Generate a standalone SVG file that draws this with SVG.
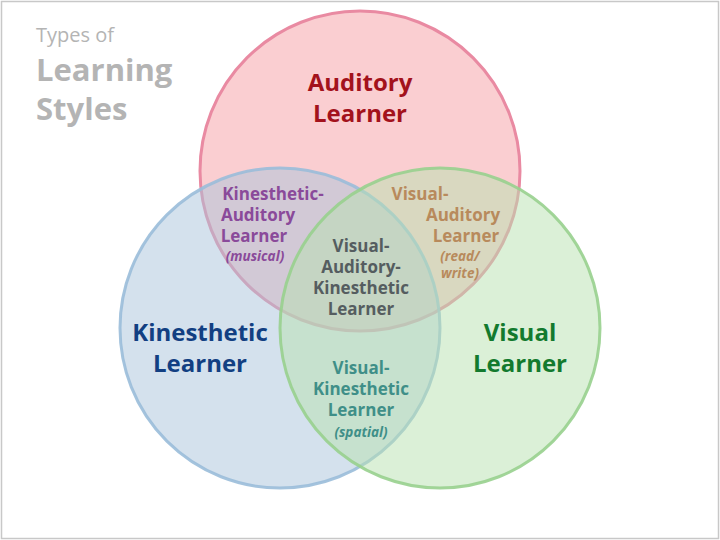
<svg xmlns="http://www.w3.org/2000/svg" width="720" height="540" viewBox="0 0 720 540">
<style>
text{font-family:"Open Sans","Noto Sans",sans-serif;font-weight:bold;text-anchor:middle}
.big{font-size:24px}
.mid{font-size:17px}
.it{font-size:13.5px;font-style:italic}
</style>
<rect x="1.5" y="1.5" width="717" height="537" fill="#fff" stroke="#c8c8c8" stroke-width="1.5"/>
<g id="title" fill="#b4b4b4">
<text x="36" y="42" style="font-size:20px;font-weight:normal;text-anchor:start">Types of</text>
<text x="36" y="81" style="font-size:31px;text-anchor:start">Learning</text>
<text x="36" y="120" style="font-size:31px;text-anchor:start">Styles</text>
</g>
<g id="circles" stroke-width="3">
<circle id="auditory" cx="360" cy="171" r="160" fill="#f7b4b8" fill-opacity="0.65" stroke="#e98aa2"/>
<circle id="kinesthetic" cx="280" cy="328" r="160" fill="#a9c3dc" fill-opacity="0.5" stroke="#9abcd9" stroke-opacity="0.9"/>
<circle id="visual" cx="440" cy="328" r="160" fill="#b7e2af" fill-opacity="0.5" stroke="#98d08e" stroke-opacity="0.9"/>
</g>
<g id="labels">
<text class="big" fill="#a3121c"><tspan x="360" y="91">Auditory</tspan><tspan x="360" y="122">Learner</tspan></text>
<text class="big" fill="#123f82"><tspan x="200" y="341">Kinesthetic</tspan><tspan x="200" y="372">Learner</tspan></text>
<text class="big" fill="#137a2e"><tspan x="520" y="341">Visual</tspan><tspan x="520" y="372">Learner</tspan></text>
<text class="mid" fill="#8a4a9a"><tspan x="273" y="200">Kinesthetic-</tspan><tspan x="258" y="221">Auditory</tspan><tspan x="254" y="242">Learner</tspan></text>
<text class="it" fill="#8a4a9a" x="255" y="261">(musical)</text>
<text class="mid" fill="#b88a5c"><tspan x="420" y="200">Visual-</tspan><tspan x="463" y="221">Auditory</tspan><tspan x="466" y="242">Learner</tspan></text>
<text class="it" fill="#b88a5c"><tspan x="460" y="261">(read/</tspan><tspan x="460" y="278">write)</tspan></text>
<text class="mid" fill="#555d60"><tspan x="361" y="252">Visual-</tspan><tspan x="361" y="273">Auditory-</tspan><tspan x="361" y="294">Kinesthetic</tspan><tspan x="361" y="315">Learner</tspan></text>
<text class="mid" fill="#3f8f88"><tspan x="361" y="374">Visual-</tspan><tspan x="361" y="395">Kinesthetic</tspan><tspan x="361" y="416">Learner</tspan></text>
<text class="it" fill="#3f8f88" x="361" y="437">(spatial)</text>
</g>
</svg>
